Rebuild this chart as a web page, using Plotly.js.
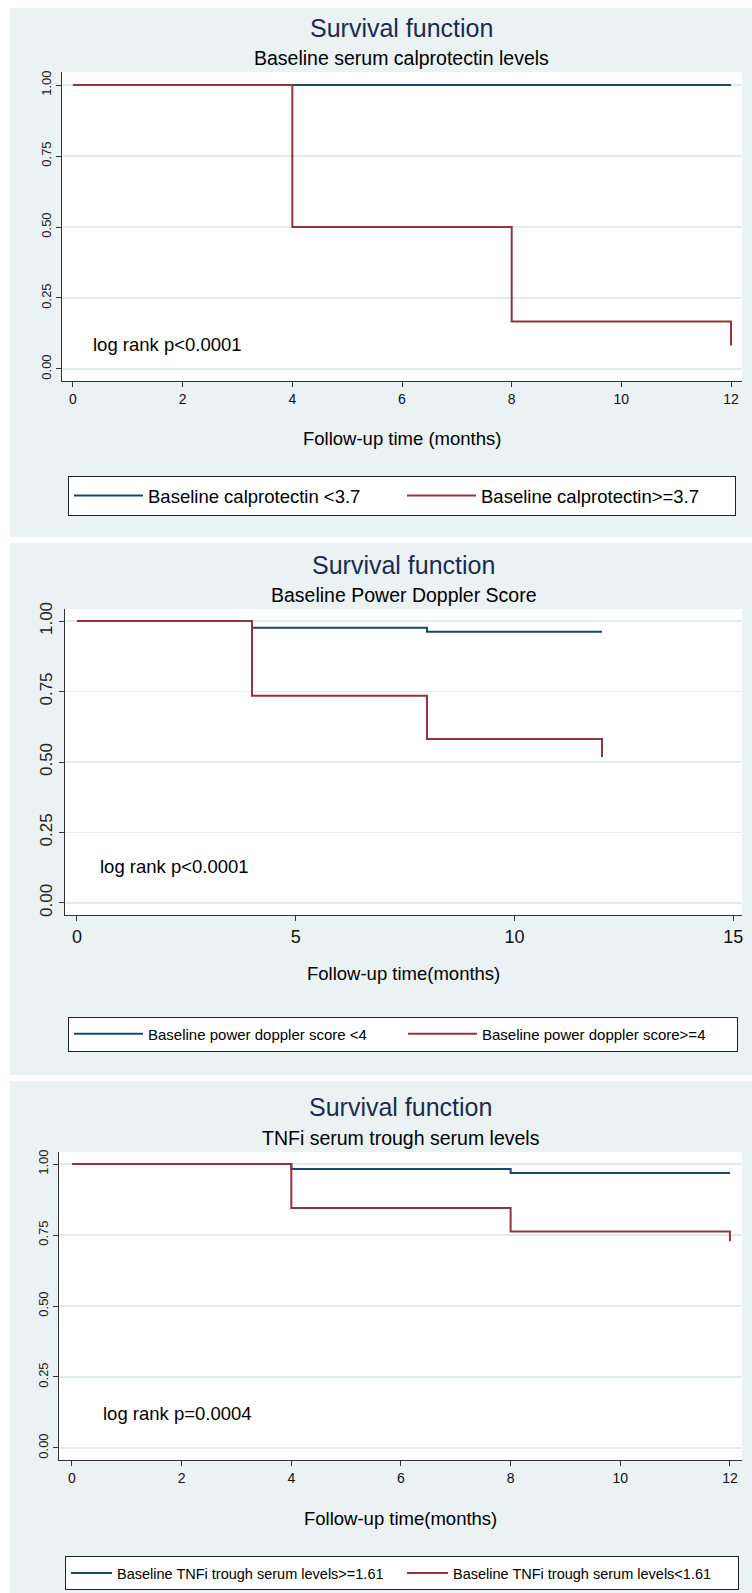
<!DOCTYPE html>
<html><head><meta charset="utf-8">
<script src="https://cdn.plot.ly/plotly-3.0.1.min.js"></script>
<style>html,body{margin:0;padding:0;background:#fff}</style>
</head><body><div id="chart" style="width:752px;height:1593px"></div>
<script>
// ---- Data ----
// Panel 1: Baseline serum calprotectin levels
const p1Names = ["Baseline calprotectin <3.7", "Baseline calprotectin>=3.7"];
const p1LowTime = [0, 12];
const p1LowSurv = [1, 1];
const p1HighTime = [0, 4, 8, 12, 12];
const p1HighSurv = [1, 0.5, 0.167, 0.167, 0.083];
const p1Ticks = [0, 2, 4, 6, 8, 10, 12];
// Panel 2: Baseline Power Doppler Score
const p2Names = ["Baseline power doppler score <4", "Baseline power doppler score>=4"];
const p2LowTime = [0, 4, 8, 12];
const p2LowSurv = [1, 0.976, 0.962, 0.962];
const p2HighTime = [0, 4, 8, 12, 12];
const p2HighSurv = [1, 0.735, 0.582, 0.582, 0.518];
const p2Ticks = [0, 5, 10, 15];
// Panel 3: TNFi serum trough serum levels
const p3Names = ["Baseline TNFi trough serum levels>=1.61", "Baseline TNFi trough serum levels<1.61"];
const p3HighTime = [0, 4, 8, 12];
const p3HighSurv = [1, 0.982, 0.968, 0.968];
const p3LowTime = [0, 4, 8, 12, 12];
const p3LowSurv = [1, 0.845, 0.762, 0.762, 0.728];
const p3Ticks = [0, 2, 4, 6, 8, 10, 12];
const yTicks = [0, 0.25, 0.5, 0.75, 1];
const yTickText = ["0.00", "0.25", "0.50", "0.75", "1.00"];
const titles = ["Survival function", "Survival function", "Survival function"];
const subtitles = ["Baseline serum calprotectin levels", "Baseline Power Doppler Score", "TNFi serum trough serum levels"];
const xTitles = ["Follow-up time (months)", "Follow-up time(months)", "Follow-up time(months)"];
const pTexts = ["log rank p<0.0001", "log rank p<0.0001", "log rank p=0.0004"];

// ---- Style / layout ----
const W = 752, H = 1593;
const BLUE = "#1a476f", RED = "#90353b";
const BG = "#eaf2f3", GRID = "#e2ecef";
const FONT = "Liberation Sans, Arial, sans-serif";
const py = p => 1 - p / H;

const panels = [
  {bg:[8,537], title:28, sub:58, plot:[72,381], xdom:[62,742], xr:[-0.2,12.2], yr:[-0.0423,1.0458],
   xt:438, leg:496, legx:402, ytf:13, xtf:14, legf:18.5, iw:69, ew:249, tx:0.33, ty:0.085},
  {bg:[543,1075], title:565, sub:595, plot:[609,915], xdom:[65,742], xr:[-0.274,15.2], yr:[-0.0426,1.0426],
   xt:973, leg:1034, legx:403, ytf:17, xtf:18, legf:15, iw:69, ew:250, tx:0.48, ty:0.128},
  {bg:[1081,1593], title:1107, sub:1138, plot:[1152,1460], xdom:[59,742], xr:[-0.237,12.22], yr:[-0.0423,1.0423],
   xt:1518, leg:1573, legx:402, ytf:13, xtf:14, legf:14.5, iw:41, ew:280, tx:0.53, ty:0.123}
];
const xTickSets = [p1Ticks, p2Ticks, p3Ticks];

function trace(x, y, name, color, i) {
  const s = i === 0 ? "" : String(i + 1);
  return {x, y, name, type: "scatter", mode: "lines", line: {color, width: 2, shape: "hv"},
          xaxis: "x" + s, yaxis: "y" + s, legend: "legend" + s, hoverinfo: "skip"};
}
const data = [
  trace(p1LowTime, p1LowSurv, p1Names[0], BLUE, 0),
  trace(p1HighTime, p1HighSurv, p1Names[1], RED, 0),
  trace(p2LowTime, p2LowSurv, p2Names[0], BLUE, 1),
  trace(p2HighTime, p2HighSurv, p2Names[1], RED, 1),
  trace(p3HighTime, p3HighSurv, p3Names[0], BLUE, 2),
  trace(p3LowTime, p3LowSurv, p3Names[1], RED, 2)
];

const layout = {
  width: W, height: H, margin: {l:0, r:0, t:0, b:0},
  paper_bgcolor: "#ffffff", plot_bgcolor: "#ffffff",
  font: {family: FONT, color: "#000"},
  shapes: [], annotations: []
};

panels.forEach((p, i) => {
  const s = i === 0 ? "" : String(i + 1);
  const cx = (p.xdom[0] + p.xdom[1]) / 2 / W;
  layout["xaxis" + s] = {
    domain: [p.xdom[0] / W, p.xdom[1] / W], range: p.xr, anchor: "y" + s,
    tickmode: "array", tickvals: xTickSets[i], ticks: "outside", ticklen: 5, tickcolor: "#333",
    showline: true, linecolor: "#333", linewidth: 1, showgrid: false, zeroline: false,
    tickfont: {size: p.xtf, color: "#111", family: FONT}, fixedrange: true
  };
  layout["yaxis" + s] = {
    domain: [py(p.plot[1]), py(p.plot[0])], range: p.yr, anchor: "x" + s,
    tickmode: "array", tickvals: yTicks, ticktext: yTickText, tickangle: -90,
    ticks: "outside", ticklen: 5, tickcolor: "#333",
    showline: true, linecolor: "#333", linewidth: 1,
    showgrid: true, gridcolor: GRID, gridwidth: 1.5, zeroline: false,
    tickfont: {size: p.ytf, color: "#222", family: FONT}, fixedrange: true
  };
  layout.shapes.push({type: "rect", xref: "paper", yref: "paper", layer: "below",
    x0: 10 / W, x1: 1, y0: py(p.bg[1]), y1: py(p.bg[0]), fillcolor: BG, line: {width: 0}});
  layout.shapes.push({type: "rect", xref: "x" + s + " domain", yref: "y" + s + " domain", layer: "below",
    x0: 0, x1: 1, y0: 0, y1: 1, fillcolor: "#ffffff", line: {width: 0}});
  layout.annotations.push({text: titles[i], xref: "paper", yref: "paper", x: cx, y: py(p.title),
    xanchor: "center", yanchor: "middle", showarrow: false, font: {size: 25, color: "#1b2c50", family: FONT}});
  layout.annotations.push({text: subtitles[i], xref: "paper", yref: "paper", x: cx, y: py(p.sub),
    xanchor: "center", yanchor: "middle", showarrow: false, font: {size: 19.5, color: "#000", family: FONT}});
  layout.annotations.push({text: xTitles[i], xref: "paper", yref: "paper", x: cx, y: py(p.xt),
    xanchor: "center", yanchor: "middle", showarrow: false, font: {size: 18.5, color: "#000", family: FONT}});
  layout.annotations.push({text: pTexts[i], xref: "x" + s, yref: "y" + s, x: p.tx, y: p.ty,
    xanchor: "left", yanchor: "middle", showarrow: false, font: {size: 18.5, color: "#000", family: FONT}});
  layout["legend" + s] = {
    orientation: "h", x: p.legx / W, xanchor: "center", xref: "paper", y: py(p.leg), yanchor: "middle", yref: "paper",
    bgcolor: "#ffffff", bordercolor: "#222", borderwidth: 1,
    font: {size: p.legf, color: "#000", family: FONT},
    itemwidth: p.iw, entrywidth: p.ew, entrywidthmode: "pixels", traceorder: "normal"
  };
});

Plotly.newPlot("chart", data, layout, {staticPlot: true, displayModeBar: false});
</script></body></html>
